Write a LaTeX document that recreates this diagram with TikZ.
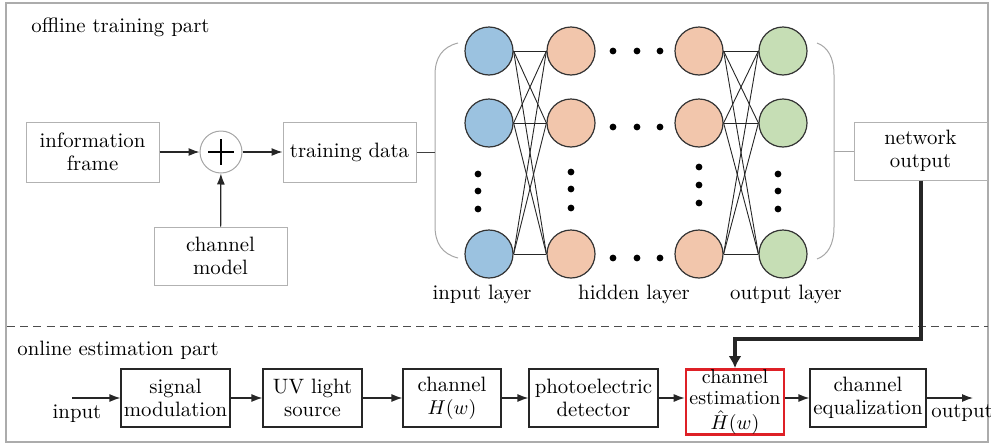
\documentclass[tikz,border=0pt]{standalone}
\usetikzlibrary{arrows.meta}
\definecolor{inblue}{RGB}{155,194,224}
\definecolor{hidpeach}{RGB}{242,198,172}
\definecolor{outgreen}{RGB}{198,222,181}
\definecolor{estred}{RGB}{222,32,38}
\begin{document}
\begin{tikzpicture}[x=0.5pt,y=-0.5pt,
  font=\fontsize{10.4}{11.6}\selectfont,
  gbox/.style={draw=gray!60, line width=0.5pt, align=center, inner sep=1pt},
  bbox/.style={draw=black!85, line width=0.6pt, align=center, inner sep=1pt},
  arr/.style={-{Latex[length=5.5pt,width=4pt]}, line width=0.6pt, draw=black!85},
  neuron/.style={circle, draw=black!80, line width=0.6pt, minimum size=24pt, inner sep=0pt},
  dotn/.style={circle, fill=black, minimum size=3.4pt, inner sep=0pt},
  link/.style={line width=0.45pt, draw=black!85},
  brace/.style={draw=gray!70, line width=0.5pt}]
\useasboundingbox (0,0) rectangle (991,445);
% outer frame and separator
\draw[gray!65, line width=0.6pt] (6,3) rectangle (988,442);
\draw[black!70, line width=0.5pt, dash pattern=on 4pt off 2.6pt] (7,326) -- (988,326);
% section titles
\node[anchor=west, inner sep=0pt] (offt) at (31,27) {offline training part};
\node[anchor=west, inner sep=0pt] (onlt) at (17,350) {online estimation part};
% offline part boxes
\node[gbox, minimum width=66.5pt, minimum height=30pt] (info) at (92.5,152) {information\\frame};
\node[circle, draw=gray!70, line width=0.5pt, minimum size=21pt, inner sep=0pt] (plus) at (221,152) {};
\draw[line width=1.3pt] (plus.center) ++(-13,0) -- ++(26,0);
\draw[line width=1.3pt] (plus.center) ++(0,-13) -- ++(0,26);
\node[gbox, minimum width=66.5pt, minimum height=30pt] (train) at (349.5,152) {training data};
\node[gbox, minimum width=66.5pt, minimum height=29pt] (chmod) at (220.5,256) {channel\\model};
\node[gbox, minimum width=66.5pt, minimum height=29pt] (netout) at (920.5,151) {network\\output};
\draw[arr] (info) -- (plus);
\draw[arr] (plus) -- (train);
\draw[arr] (chmod) -- (plus);
% brackets
\coordinate (lbr) at (435,152);
\coordinate (rbr) at (834,151);
\draw[brace] (458,43) .. controls (442,47) and (435,58) .. (435,75) -- (435,226) .. controls (435,243) and (442,254) .. (458,258);
\draw[brace] (817,43) .. controls (828,47) and (834,58) .. (834,75) -- (834,227) .. controls (834,244) and (828,255) .. (817,259);
\draw[line width=0.5pt, black!75] (train) -- (lbr);
\draw[line width=0.5pt, gray!70] (rbr) -- (netout);
% neurons
\foreach \n/\y in {1/51,2/123,3/254} {
  \node[neuron, fill=inblue] (i\n) at (489,\y) {};
  \node[neuron, fill=hidpeach] (h\n) at (571,\y) {};
  \node[neuron, fill=hidpeach] (g\n) at (699,\y) {};
  \node[neuron, fill=outgreen] (o\n) at (783,\y) {};
}
\foreach \a in {1,2,3} {
  \foreach \b in {1,2,3} {
    \draw[link] (i\a.east) -- (h\b.west);
    \draw[link] (g\a.east) -- (o\b.west);
  }
}
% vertical dots
\foreach \k/\y in {1/174,2/191,3/209} {
  \node[dotn] (vi\k) at (478,\y) {};
  \node[dotn] (vo\k) at (778,\y) {};
}
\foreach \k/\y in {1/172,2/189,3/208} { \node[dotn] (vh\k) at (571,\y) {}; }
\foreach \k/\y in {1/167,2/185,3/203} { \node[dotn] (vg\k) at (699,\y) {}; }
% horizontal dots
\foreach \k/\x in {1/613,2/637,3/660} {
  \node[dotn] (ha\k) at (\x,51) {};
  \node[dotn] (hb\k) at (\x,127) {};
  \node[dotn] (hc\k) at (\x,258) {};
}
% layer labels
\node (lin) at (482,294) {input layer};
\node (lhid) at (634,294) {hidden layer};
\node (lout) at (786,294) {output layer};
% online part
\node[bbox, minimum width=54.5pt, minimum height=29pt] (sigmod) at (175.5,398) {signal\\modulation};
\node[bbox, minimum width=49.5pt, minimum height=29pt] (uv) at (312.5,398) {UV light\\source};
\node[bbox, minimum width=49pt, minimum height=29pt] (chan) at (452,398) {channel\\$H(w)$};
\node[bbox, minimum width=64.5pt, minimum height=29pt] (photo) at (593.5,398) {photoelectric\\detector};
\node[draw=estred, line width=1.3pt, align=center, inner sep=0pt, minimum width=49pt, minimum height=32pt, font=\fontsize{10}{10.8}\selectfont] (est) at (735,402) {channel\\estimation\\[1.6pt]$\hat{H}(w)$};
\node[bbox, minimum width=58pt, minimum height=29pt] (eq) at (868,398) {channel\\equalization};
\coordinate (inS) at (72,398);
\coordinate (outE) at (973,398);
\node[inner sep=0pt] (inlab) at (77,414) {input};
\node[anchor=west, inner sep=0pt] (outlab) at (931,413) {output};
\draw[arr] (inS) -- (sigmod);
\draw[arr] (sigmod) -- (uv);
\draw[arr] (uv) -- (chan);
\draw[arr] (chan) -- (photo);
\draw[arr] (photo.east) -- (photo.east -| est.west);
\draw[arr] (est.east |- eq.west) -- (eq.west);
\draw[arr] (eq) -- (outE);
% feedback thick arrow
\coordinate (turn) at (920.5,339);
\draw[line width=2pt, black!85, -{Latex[length=6pt,width=6.5pt]}] (netout.south) -- (turn) -| (est.north);
\end{tikzpicture}
\end{document}
